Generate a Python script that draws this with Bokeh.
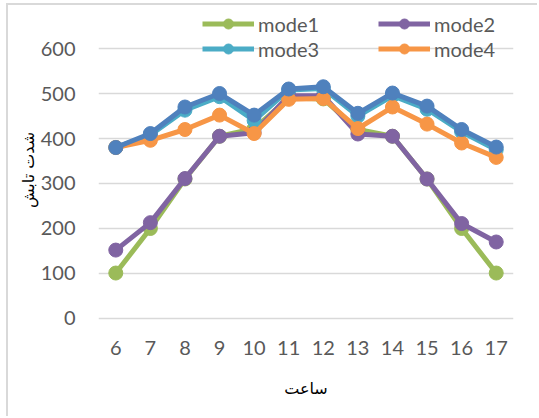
from bokeh.plotting import figure
from bokeh.models import Range1d, Legend, LegendItem, FixedTicker
from bokeh.embed import file_html
from bokeh.resources import INLINE

hours = [6, 7, 8, 9, 10, 11, 12, 13, 14, 15, 16, 17]
mode1 = [101, 200, 310, 405, 422, 490, 488, 420, 405, 310, 200, 101]
mode2 = [152, 213, 311, 405, 413, 495, 495, 410, 405, 310, 211, 170]
mode3 = [380, 408, 463, 493, 440, 508, 511, 450, 495, 465, 415, 375]
mode4 = [380, 396, 420, 452, 411, 487, 489, 422, 470, 432, 390, 358]
mode5 = [380, 411, 470, 500, 452, 510, 515, 456, 501, 472, 420, 381]
y_ticks = [0, 100, 200, 300, 400, 500, 600]
x_title = "ساعت"
y_title = "شدت تابش"

colors = {"mode1": "#9BBB59", "mode2": "#8064A2", "mode3": "#4BACC6",
          "mode4": "#F79646", "mode5": "#4F81BD"}

FONT = "Lato"
GRAY = "#595959"

p = figure(width=531, height=413, output_backend="svg", toolbar_location=None,
           x_range=Range1d(5.5, 17.5), y_range=Range1d(-35.6, 695.6),
           min_border_left=90, min_border_right=26, min_border_top=0,
           min_border_bottom=84)
p.styles = {"border-top": "2px solid #d9d9d9", "border-left": "2px solid #d9d9d9",
            "margin-top": "3px", "margin-left": "6px"}
p.outline_line_color = None
p.background_fill_color = "white"

renderers = {}
for name, vals in [("mode1", mode1), ("mode2", mode2), ("mode3", mode3),
                   ("mode4", mode4), ("mode5", mode5)]:
    c = colors[name]
    l = p.line(hours, vals, line_color=c, line_width=5, line_join="round")
    s = p.scatter(hours, vals, size=14, fill_color=c, line_color=c)
    renderers[name] = [l, s]

p.xaxis.ticker = FixedTicker(ticks=hours)
p.yaxis.ticker = FixedTicker(ticks=y_ticks)
for ax in (p.xaxis, p.yaxis):
    ax.axis_line_color = None
    ax.major_tick_line_color = None
    ax.minor_tick_line_color = None
    ax.major_label_text_font = FONT
    ax.major_label_text_font_size = "20px"
    ax.major_label_text_color = GRAY
    ax.axis_label_text_font = "DejaVu Sans"
    ax.axis_label_text_font_size = "16px"
    ax.axis_label_text_font_style = "normal"
    ax.axis_label_text_color = "#000000"
p.xaxis.major_label_standoff = 0
p.yaxis.major_label_standoff = 17
p.xgrid.grid_line_color = None
p.ygrid.grid_line_color = "#d9d9d9"
p.ygrid.grid_line_width = 1.5

p.xaxis.axis_label = x_title
p.xaxis.axis_label_standoff = 21
p.yaxis.axis_label = y_title
p.yaxis.axis_label_standoff = 0

def make_legend(names, x):
    lg = Legend(items=[LegendItem(label=n, renderers=renderers[n]) for n in names],
                location=(x, 273), orientation="vertical",
                glyph_width=52, glyph_height=25, label_height=25,
                label_standoff=4, spacing=0, padding=0, margin=0,
                border_line_color=None, background_fill_alpha=0,
                label_text_font=FONT, label_text_font_size="20px",
                label_text_color=GRAY)
    return lg

p.add_layout(make_legend(["mode1", "mode3"], 104))
p.add_layout(make_legend(["mode2", "mode4"], 280))

open("out.html", "w").write(file_html(p, INLINE))
